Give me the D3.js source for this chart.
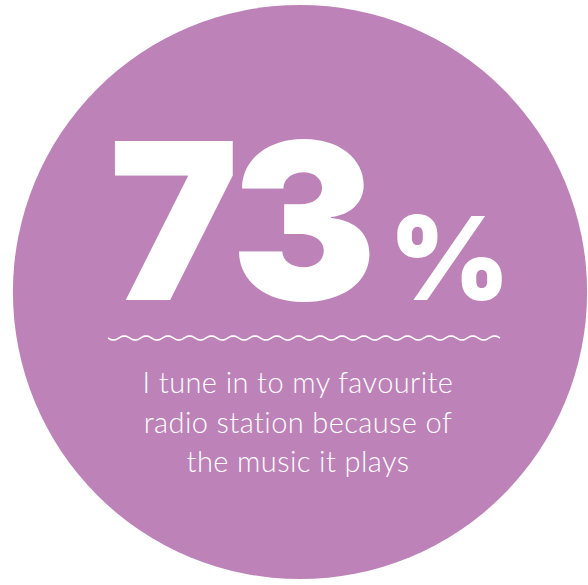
<!DOCTYPE html>
<html>
<head>
<meta charset="utf-8">
<script src="https://cdn.jsdelivr.net/npm/d3@7"></script>
<style>
  html, body { margin: 0; padding: 0; background: #fff; }
  svg { display: block; }
</style>
</head>
<body>
<div id="chart"></div>
<script>
const statValue = [73];
const statUnit = ['%'];
const captionLines = [
  'I tune in to my favourite',
  'radio station because of',
  'the music it plays'
];

const W = 588, H = 585;
const bubbleColor = '#bd83b8';

const svg = d3.select('#chart').append('svg')
  .attr('width', W)
  .attr('height', H);

// bubble, size from a radial scale (0..100%)
const r = d3.scaleSqrt().domain([0, 100]).range([0, 336]);
const cx = 300, cy = 292;

svg.append('circle')
  .attr('cx', cx)
  .attr('cy', cy)
  .attr('r', r(statValue[0]))
  .attr('fill', bubbleColor);

// big number
const big = svg.append('text')
  .attr('x', 109)
  .attr('y', 300)
  .attr('fill', '#fff')
  .style('font-family', 'Inter, "Open Sans", sans-serif')
  .style('font-weight', 900);

big.append('tspan')
  .style('font-size', '218px')
  .style('letter-spacing', '-4px')
  .text(statValue[0]);

big.append('tspan')
  .attr('dx', 16)
  .style('font-size', '116px')
  .text(statUnit[0]);

// wavy divider
const waveX = d3.scaleLinear().domain([0, 1]).range([108, 500]);
const wavePts = d3.range(0, 1.0001, 1 / 360).map(t => [waveX(t), 338 + 2 * Math.sin(t * 18 * 2 * Math.PI)]);
svg.append('path')
  .attr('d', d3.line()(wavePts))
  .attr('fill', 'none')
  .attr('stroke', '#fff')
  .attr('stroke-width', 1.6);

// caption
svg.append('g')
  .selectAll('text')
  .data(captionLines)
  .join('text')
    .attr('x', 298)
    .attr('y', (d, i) => 393 + i * 39.5)
    .attr('text-anchor', 'middle')
    .attr('fill', '#fff')
    .style('font-family', 'Lato, sans-serif')
    .style('font-weight', 300)
    .style('font-size', '29px')
    .style('letter-spacing', '0.4px')
    .text(d => d);
</script>
</body>
</html>
